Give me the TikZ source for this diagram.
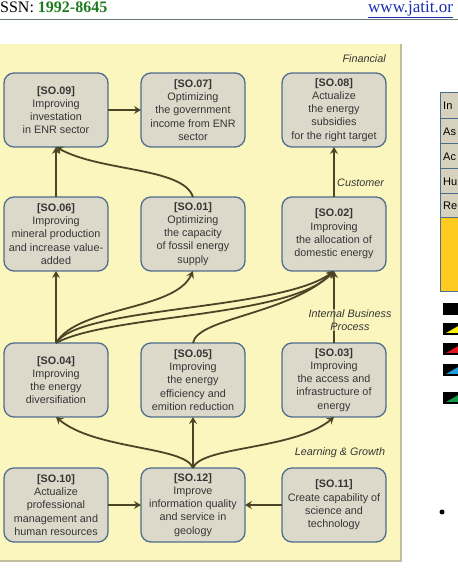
\documentclass[tikz,border=0pt]{standalone}
\usepackage{fontspec}
\setmainfont{Liberation Sans}
\newfontfamily\headfont{Liberation Serif}
\usetikzlibrary{positioning,arrows.meta}
\definecolor{panelfill}{HTML}{FBF6BE}
\definecolor{paneledge}{HTML}{C2BD9C}
\definecolor{sofill}{HTML}{DDD9CA}
\definecolor{soedge}{HTML}{4E6D8C}
\definecolor{sotext}{HTML}{353535}
\definecolor{linkcol}{HTML}{4A4527}
\definecolor{issngreen}{HTML}{1E7A1E}
\definecolor{urlblue}{HTML}{1A2EB0}
\definecolor{headrule}{HTML}{6B7B6B}
\definecolor{tabfill}{HTML}{D6D2BE}
\definecolor{tabgold}{HTML}{FCCB1E}
\definecolor{keyyellow}{HTML}{FFF200}
\definecolor{keyred}{HTML}{E8141B}
\definecolor{keyblue}{HTML}{1BA1E2}
\definecolor{keygreen}{HTML}{139A48}

\begin{document}
\begin{tikzpicture}[x=1pt,y=1pt,
  sobox/.style={draw=soedge,fill=sofill,line width=1.3pt,rounded corners=10pt,
    minimum width=104pt,minimum height=74pt,inner sep=1pt,outer sep=0pt,
    align=center,text=sotext,font=\fontsize{10.8}{13.2}\selectfont},
  link/.style={draw=linkcol,line width=1.8pt,-{Stealth[length=7pt,width=8pt,inset=2.5pt]}},
  persp/.style={inner sep=0pt,text=sotext,font=\fontsize{10.8}{13.2}\selectfont\itshape},
  tabcell/.style={draw=soedge,fill=tabfill,line width=1pt}]
\useasboundingbox (0,0) rectangle (458,576);
\clip (0,0) rectangle (458,576);
\node[anchor=base west,inner sep=0pt,font=\headfont\fontsize{16}{16}\selectfont] (issn) at (0,563.5) {SSN: \textcolor{issngreen}{\textbf{1992-8645}}};
\node[anchor=base west,inner sep=0pt,text=urlblue,font=\headfont\fontsize{17}{17}\selectfont] (url) at (368,563.5) {\underline{www.jatit.or}};
\draw[headrule,line width=1pt] (0,556) -- (458,556);
\fill[panelfill] (0,15) rectangle (401,532);
\draw[paneledge,line width=1.5pt] (0,15) -- (401,15) -- (401,532);
\node[sobox] (so09) at (56,466) {\textbf{[SO.09]}\\Improving\\investation\\in ENR sector};
\node[sobox,right=33pt of so09] (so07) {\textbf{[SO.07]}\\Optimizing\\the government\\income from ENR\\sector};
\node[sobox,right=37pt of so07] (so08) {\textbf{[SO.08]}\\Actualize\\the energy\\subsidies\\for the right target};
\node[sobox,below=50pt of so09] (so06) {\textbf{[SO.06]}\\Improving\\mineral production\\and increase value-\\added};
\node[sobox,below=50pt of so07] (so01) {\textbf{[SO.01]}\\Optimizing\\the capacity\\of fossil energy\\supply};
\node[sobox,below=50pt of so08] (so02) {\textbf{[SO.02]}\\Improving\\the allocation of\\domestic energy};
\node[sobox,below=72pt of so06] (so04) {\textbf{[SO.04]}\\Improving\\the energy\\diversifiation};
\node[sobox,below=72pt of so01] (so05) {\textbf{[SO.05]}\\Improving\\the energy\\efficiency and\\emition reduction};
\node[sobox,below=72pt of so02] (so03) {\textbf{[SO.03]}\\Improving\\the access and\\infrastructure of\\energy};
\node[sobox,below=51pt of so04] (so10) {\textbf{[SO.10]}\\Actualize\\professional\\management and\\human resources};
\node[sobox,below=51pt of so05] (so12) {\textbf{[SO.12]}\\Improve\\information quality\\and service in\\geology};
\node[sobox,below=51pt of so03] (so11) {\textbf{[SO.11]}\\Create capability of\\science and\\technology};
\draw[link] (so09) -- (so07);
\draw[link] (so02) -- (so08);
\draw[link] (so06) -- (so09);
\draw[link] (so01.north) .. controls +(-10,30) and +(45,-25) .. (so09.south);
\draw[link] (so04) -- (so06);
\draw[link] (so04.north) .. controls +(22,37) and +(-18,-40) .. (so01.south);
\draw[link] (so04.north) .. controls +(24,37) and +(-54,-40) .. (so02.south);
\draw[link] (so04.north) .. controls +(54,29) and +(-44,-47) .. (so02.south);
\draw[link] (so05.north) .. controls +(4,25) and +(-44,-43) .. (so02.south);
\draw[link] (so03) -- (so02);
\draw[link] (so12) -- (so05);
\draw[link] (so12.north) .. controls +(-8,22) and +(39,-33) .. (so04.south);
\draw[link] (so12.north) .. controls +(8,22) and +(-39,-33) .. (so03.south);
\draw[link] (so10) -- (so12);
\draw[link] (so11) -- (so12);
\node[persp,anchor=east] (fin) at (386,517) {Financial};
\node[persp,anchor=west] (cust) at (337,393) {Customer};
\node[persp,align=center,fill=panelfill,fill opacity=0.55,text opacity=1] (ibp) at (350,256) {Internal Business\\Process};
\node[persp] (lng) at (340,123) {Learning \& Growth};
\foreach \hi/\lo/\lbl in {483/457/In,457/432/As,432/407/Ac,407/382/Hu,382/358/Re} {
  \draw[tabcell] (440,\lo) rectangle (470,\hi);
  \node[anchor=west,inner sep=0pt,font=\fontsize{11}{11}\selectfont] (tab\lbl) at (443,{(\hi+\lo)/2}) {\lbl};
}
\draw[tabcell,fill=tabgold] (440,284) rectangle (470,358);
\foreach \lo/\col in {261/black,241/keyyellow,221/keyred,200/keyblue,172/keygreen} {
  \fill[black] (443,\lo) rectangle (462,\lo+12);
  \fill[\col] (446,\lo+2) -- (460,\lo+10) -- (460,\lo+2) -- cycle;
}
\node[circle,fill=black,inner sep=0pt,minimum size=5pt] (dot) at (442,64) {};
\end{tikzpicture}
\end{document}
